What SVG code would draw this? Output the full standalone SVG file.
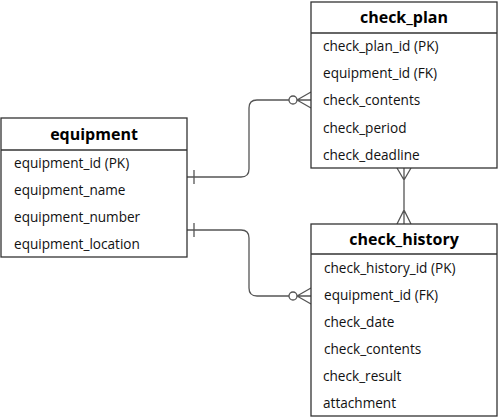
<svg xmlns="http://www.w3.org/2000/svg" width="499" height="419" viewBox="0 0 499 419">
<style>
.box{fill:#fff;stroke:#333;stroke-width:1.3}
.sep{stroke:#333;stroke-width:1.3}
.h{font-family:"Open Sans","Noto Sans",sans-serif;font-weight:bold;font-size:16px;fill:#000;text-anchor:middle}
.r{font-family:"Open Sans","Noto Sans",sans-serif;font-size:13.6px;fill:#111}
.c{fill:none;stroke:#555;stroke-width:1.3}
</style>
<rect width="499" height="419" fill="#fff"/>
<g id="connectors">
<path class="c" d="M187 177 H241 Q249 177 249 169 V108 Q249 100 257 100 H289"/>
<circle class="c" cx="293" cy="100" r="4"/>
<path class="c" d="M297 100 H311 M297 100 L311 92 M297 100 L311 108"/>
<path class="c" d="M194 170 V184"/>
<path class="c" d="M187 230 H241 Q249 230 249 238 V288 Q249 296 257 296 H289"/>
<circle class="c" cx="293" cy="296" r="4"/>
<path class="c" d="M297 296 H311 M297 296 L311 288 M297 296 L311 304"/>
<path class="c" d="M194 223 V237"/>
<path class="c" d="M404 168 V224 M397 168 L404 180 L411 168 M397 224 L404 210 L411 224"/>
</g>
<g id="equipment">
<rect class="box" x="1" y="118" width="186" height="139"/>
<line class="sep" x1="1" y1="150" x2="187" y2="150"/>
<text class="h" x="94" y="140">equipment</text>
<text class="r" x="14" y="168">equipment_id (PK)</text>
<text class="r" x="14" y="195">equipment_name</text>
<text class="r" x="14" y="222">equipment_number</text>
<text class="r" x="14" y="249">equipment_location</text>
</g>
<g id="check_plan">
<rect class="box" x="311" y="2" width="186" height="166"/>
<line class="sep" x1="311" y1="33" x2="497" y2="33"/>
<text class="h" x="404" y="23">check_plan</text>
<text class="r" x="323" y="51">check_plan_id (PK)</text>
<text class="r" x="323" y="78">equipment_id (FK)</text>
<text class="r" x="323" y="105">check_contents</text>
<text class="r" x="323" y="133">check_period</text>
<text class="r" x="323" y="160">check_deadline</text>
</g>
<g id="check_history">
<rect class="box" x="311" y="224" width="186" height="192"/>
<line class="sep" x1="311" y1="254" x2="497" y2="254"/>
<text class="h" x="404" y="245">check_history</text>
<text class="r" x="324" y="273">check_history_id (PK)</text>
<text class="r" x="324" y="300">equipment_id (FK)</text>
<text class="r" x="324" y="327">check_date</text>
<text class="r" x="324" y="354">check_contents</text>
<text class="r" x="323" y="381">check_result</text>
<text class="r" x="323" y="408">attachment</text>
</g>
</svg>
